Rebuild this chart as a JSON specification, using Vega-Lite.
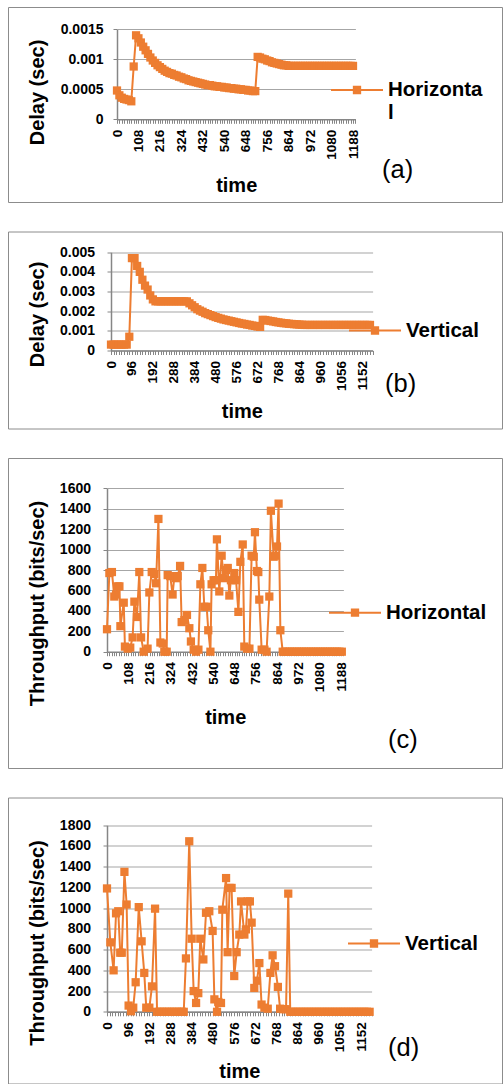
{
  "$schema": "https://vega.github.io/schema/vega-lite/v6.json",
  "background": "white",
  "padding": {"left": 7, "top": 6, "right": 0, "bottom": 0},
  "spacing": 27.5,
  "datasets": {
    "hd": [
      {"time":0,"value":0.00048},{"time":12,"value":0.0004},{"time":24,"value":0.00036},{"time":36,"value":0.00034},{"time":48,"value":0.00033},{"time":60,"value":0.00032},{"time":72,"value":0.0003},{"time":84,"value":0.00088},{"time":96,"value":0.0014},{"time":108,"value":0.00135},{"time":120,"value":0.00128},{"time":132,"value":0.00121},{"time":144,"value":0.00115},{"time":156,"value":0.00109},{"time":168,"value":0.00103},{"time":180,"value":0.00098},{"time":192,"value":0.00094},{"time":204,"value":0.0009},{"time":216,"value":0.00087},{"time":228,"value":0.00084},{"time":240,"value":0.00081},{"time":252,"value":0.00079},{"time":264,"value":0.00077},{"time":276,"value":0.00076},{"time":288,"value":0.00074},{"time":300,"value":0.00073},{"time":312,"value":0.00071},{"time":324,"value":0.0007},{"time":336,"value":0.00068},{"time":348,"value":0.00067},{"time":360,"value":0.00065},{"time":372,"value":0.00064},{"time":384,"value":0.00063},{"time":396,"value":0.00062},{"time":408,"value":0.00061},{"time":420,"value":0.0006},{"time":432,"value":0.00059},{"time":444,"value":0.00058},{"time":456,"value":0.00057},{"time":468,"value":0.00057},{"time":480,"value":0.00056},{"time":492,"value":0.00055},{"time":504,"value":0.00055},{"time":516,"value":0.00054},{"time":528,"value":0.00054},{"time":540,"value":0.00053},{"time":552,"value":0.00053},{"time":564,"value":0.00052},{"time":576,"value":0.00052},{"time":588,"value":0.00051},{"time":600,"value":0.00051},{"time":612,"value":0.0005},{"time":624,"value":0.0005},{"time":636,"value":0.00049},{"time":648,"value":0.00049},{"time":660,"value":0.00048},{"time":672,"value":0.00048},{"time":684,"value":0.00047},{"time":696,"value":0.00047},{"time":708,"value":0.00104},{"time":720,"value":0.00103},{"time":732,"value":0.00101},{"time":744,"value":0.001},{"time":756,"value":0.00098},{"time":768,"value":0.00097},{"time":780,"value":0.00095},{"time":792,"value":0.00094},{"time":804,"value":0.00093},{"time":816,"value":0.00092},{"time":828,"value":0.00091},{"time":840,"value":0.0009},{"time":852,"value":0.0009},{"time":864,"value":0.00089},{"time":876,"value":0.00089},{"time":888,"value":0.00089},{"time":900,"value":0.00089},{"time":912,"value":0.00089},{"time":924,"value":0.00089},{"time":936,"value":0.00089},{"time":948,"value":0.00089},{"time":960,"value":0.00089},{"time":972,"value":0.00089},{"time":984,"value":0.00089},{"time":996,"value":0.00089},{"time":1008,"value":0.00089},{"time":1020,"value":0.00089},{"time":1032,"value":0.00089},{"time":1044,"value":0.00089},{"time":1056,"value":0.00089},{"time":1068,"value":0.00089},{"time":1080,"value":0.00089},{"time":1092,"value":0.00089},{"time":1104,"value":0.00089},{"time":1116,"value":0.00089},{"time":1128,"value":0.00089},{"time":1140,"value":0.00089},{"time":1152,"value":0.00089},{"time":1164,"value":0.00089},{"time":1176,"value":0.00089},{"time":1188,"value":0.00089}
    ],
    "vd": [
      {"time":0,"value":0.0003},{"time":12,"value":0.0003},{"time":24,"value":0.0003},{"time":36,"value":0.0003},{"time":48,"value":0.0003},{"time":60,"value":0.0003},{"time":72,"value":0.0003},{"time":84,"value":0.0007},{"time":96,"value":0.0047},{"time":108,"value":0.0047},{"time":120,"value":0.0043},{"time":132,"value":0.004},{"time":144,"value":0.0036},{"time":156,"value":0.0033},{"time":168,"value":0.0031},{"time":180,"value":0.0028},{"time":192,"value":0.0026},{"time":204,"value":0.0025},{"time":216,"value":0.0025},{"time":228,"value":0.0025},{"time":240,"value":0.0025},{"time":252,"value":0.0025},{"time":264,"value":0.0025},{"time":276,"value":0.0025},{"time":288,"value":0.0025},{"time":300,"value":0.0025},{"time":312,"value":0.0025},{"time":324,"value":0.0025},{"time":336,"value":0.0025},{"time":348,"value":0.0025},{"time":360,"value":0.0024},{"time":372,"value":0.0023},{"time":384,"value":0.0022},{"time":396,"value":0.0021},{"time":408,"value":0.00203},{"time":420,"value":0.00197},{"time":432,"value":0.0019},{"time":444,"value":0.00185},{"time":456,"value":0.0018},{"time":468,"value":0.00175},{"time":480,"value":0.0017},{"time":492,"value":0.00166},{"time":504,"value":0.00162},{"time":516,"value":0.00158},{"time":528,"value":0.00155},{"time":540,"value":0.00152},{"time":552,"value":0.00149},{"time":564,"value":0.00146},{"time":576,"value":0.00143},{"time":588,"value":0.0014},{"time":600,"value":0.00137},{"time":612,"value":0.00135},{"time":624,"value":0.00132},{"time":636,"value":0.0013},{"time":648,"value":0.00127},{"time":660,"value":0.00125},{"time":672,"value":0.00122},{"time":684,"value":0.0012},{"time":696,"value":0.00156},{"time":708,"value":0.00155},{"time":720,"value":0.00152},{"time":732,"value":0.0015},{"time":744,"value":0.00148},{"time":756,"value":0.00145},{"time":768,"value":0.00143},{"time":780,"value":0.00141},{"time":792,"value":0.00139},{"time":804,"value":0.00138},{"time":816,"value":0.00136},{"time":828,"value":0.00135},{"time":840,"value":0.00134},{"time":852,"value":0.00133},{"time":864,"value":0.00132},{"time":876,"value":0.00131},{"time":888,"value":0.0013},{"time":900,"value":0.0013},{"time":912,"value":0.0013},{"time":924,"value":0.0013},{"time":936,"value":0.0013},{"time":948,"value":0.0013},{"time":960,"value":0.0013},{"time":972,"value":0.0013},{"time":984,"value":0.0013},{"time":996,"value":0.0013},{"time":1008,"value":0.0013},{"time":1020,"value":0.0013},{"time":1032,"value":0.0013},{"time":1044,"value":0.0013},{"time":1056,"value":0.0013},{"time":1068,"value":0.0013},{"time":1080,"value":0.0013},{"time":1092,"value":0.0013},{"time":1104,"value":0.0013},{"time":1116,"value":0.0013},{"time":1128,"value":0.0013},{"time":1140,"value":0.0013},{"time":1152,"value":0.0013},{"time":1164,"value":0.0013},{"time":1176,"value":0.0013},{"time":1188,"value":0.0013}
    ],
    "ht": [
      {"time":0,"value":220},{"time":12,"value":770},{"time":25,"value":780},{"time":37,"value":540},{"time":46,"value":560},{"time":54,"value":640},{"time":63,"value":640},{"time":68,"value":250},{"time":85,"value":480},{"time":91,"value":50},{"time":105,"value":30},{"time":118,"value":40},{"time":130,"value":140},{"time":139,"value":490},{"time":152,"value":340},{"time":164,"value":780},{"time":173,"value":140},{"time":186,"value":0},{"time":206,"value":30},{"time":215,"value":580},{"time":227,"value":780},{"time":240,"value":760},{"time":249,"value":670},{"time":261,"value":1300},{"time":271,"value":90},{"time":283,"value":80},{"time":291,"value":0},{"time":303,"value":0},{"time":308,"value":750},{"time":321,"value":740},{"time":333,"value":560},{"time":342,"value":740},{"time":350,"value":720},{"time":359,"value":740},{"time":371,"value":840},{"time":379,"value":290},{"time":393,"value":310},{"time":406,"value":360},{"time":418,"value":230},{"time":426,"value":100},{"time":440,"value":20},{"time":452,"value":0},{"time":464,"value":20},{"time":474,"value":660},{"time":484,"value":820},{"time":494,"value":440},{"time":506,"value":440},{"time":514,"value":210},{"time":525,"value":0},{"time":531,"value":660},{"time":541,"value":700},{"time":553,"value":700},{"time":558,"value":1100},{"time":570,"value":590},{"time":582,"value":940},{"time":592,"value":720},{"time":604,"value":800},{"time":613,"value":820},{"time":621,"value":550},{"time":629,"value":700},{"time":646,"value":770},{"time":655,"value":700},{"time":667,"value":390},{"time":677,"value":880},{"time":689,"value":1050},{"time":697,"value":50},{"time":711,"value":30},{"time":723,"value":30},{"time":734,"value":940},{"time":745,"value":930},{"time":751,"value":1170},{"time":761,"value":790},{"time":768,"value":780},{"time":773,"value":510},{"time":785,"value":20},{"time":799,"value":20},{"time":810,"value":0},{"time":824,"value":540},{"time":832,"value":1380},{"time":846,"value":930},{"time":854,"value":940},{"time":863,"value":1030},{"time":871,"value":1450},{"time":880,"value":210},{"time":892,"value":0},{"time":904,"value":0},{"time":916,"value":0},{"time":928,"value":0},{"time":940,"value":0},{"time":952,"value":0},{"time":964,"value":0},{"time":976,"value":0},{"time":988,"value":0},{"time":1000,"value":0},{"time":1012,"value":0},{"time":1024,"value":0},{"time":1036,"value":0},{"time":1048,"value":0},{"time":1060,"value":0},{"time":1072,"value":0},{"time":1084,"value":0},{"time":1096,"value":0},{"time":1108,"value":0},{"time":1120,"value":0},{"time":1132,"value":0},{"time":1144,"value":0},{"time":1156,"value":0},{"time":1168,"value":0},{"time":1180,"value":0},{"time":1192,"value":0}
    ],
    "vt": [
      {"time":0,"value":1190},{"time":15,"value":670},{"time":30,"value":400},{"time":41,"value":950},{"time":51,"value":970},{"time":60,"value":570},{"time":67,"value":570},{"time":79,"value":1350},{"time":89,"value":1035},{"time":98,"value":60},{"time":109,"value":5},{"time":119,"value":40},{"time":130,"value":285},{"time":144,"value":1010},{"time":157,"value":680},{"time":169,"value":375},{"time":178,"value":40},{"time":192,"value":40},{"time":204,"value":245},{"time":218,"value":995},{"time":227,"value":0},{"time":238,"value":0},{"time":249,"value":0},{"time":261,"value":0},{"time":272,"value":0},{"time":283,"value":0},{"time":295,"value":0},{"time":306,"value":0},{"time":317,"value":0},{"time":329,"value":0},{"time":340,"value":0},{"time":348,"value":0},{"time":358,"value":515},{"time":373,"value":1645},{"time":384,"value":705},{"time":393,"value":200},{"time":404,"value":85},{"time":414,"value":180},{"time":423,"value":705},{"time":437,"value":505},{"time":449,"value":955},{"time":464,"value":970},{"time":479,"value":780},{"time":487,"value":120},{"time":499,"value":0},{"time":505,"value":95},{"time":517,"value":85},{"time":523,"value":985},{"time":540,"value":1290},{"time":547,"value":575},{"time":556,"value":1195},{"time":565,"value":1195},{"time":577,"value":345},{"time":588,"value":575},{"time":600,"value":745},{"time":608,"value":1065},{"time":623,"value":745},{"time":630,"value":795},{"time":638,"value":1065},{"time":648,"value":1065},{"time":656,"value":860},{"time":668,"value":230},{"time":680,"value":300},{"time":691,"value":470},{"time":701,"value":70},{"time":714,"value":40},{"time":729,"value":30},{"time":741,"value":375},{"time":751,"value":545},{"time":762,"value":440},{"time":775,"value":240},{"time":785,"value":30},{"time":801,"value":25},{"time":812,"value":25},{"time":822,"value":1140},{"time":831,"value":0},{"time":843,"value":0},{"time":855,"value":0},{"time":867,"value":0},{"time":879,"value":0},{"time":891,"value":0},{"time":903,"value":0},{"time":915,"value":0},{"time":927,"value":0},{"time":939,"value":0},{"time":951,"value":0},{"time":963,"value":0},{"time":975,"value":0},{"time":987,"value":0},{"time":999,"value":0},{"time":1011,"value":0},{"time":1023,"value":0},{"time":1035,"value":0},{"time":1047,"value":0},{"time":1059,"value":0},{"time":1071,"value":0},{"time":1083,"value":0},{"time":1095,"value":0},{"time":1107,"value":0},{"time":1119,"value":0},{"time":1131,"value":0},{"time":1143,"value":0},{"time":1155,"value":0},{"time":1167,"value":0},{"time":1179,"value":0},{"time":1191,"value":0}
    ]
  },
  "vconcat": [
    {
      "width": 494, "height": 195,
      "title": {"text": "(a)", "orient": "bottom", "anchor": "start", "frame": "group", "offset": -44.5, "dx": 374, "font": "Liberation Sans", "fontSize": 25.5, "fontWeight": "normal", "color": "#000000"},
      "data": {"name": "hd"},
      "encoding": {
        "x": {"field": "time", "type": "quantitative",
          "scale": {"domain": [0, 1200], "range": [109, 347.4], "nice": false, "zero": false},
          "axis": {"title": "time", "offset": -82.7, "titleY": 56.4, "format": "d", "labelExpr": "datum.value % 108 === 0 ? datum.label : ''",
            "values": [0,12,24,36,48,60,72,84,96,108,120,132,144,156,168,180,192,204,216,228,240,252,264,276,288,300,312,324,336,348,360,372,384,396,408,420,432,444,456,468,480,492,504,516,528,540,552,564,576,588,600,612,624,636,648,660,672,684,696,708,720,732,744,756,768,780,792,804,816,828,840,852,864,876,888,900,912,924,936,948,960,972,984,996,1008,1020,1032,1044,1056,1068,1080,1092,1104,1116,1128,1140,1152,1164,1176,1188,1200]}},
        "y": {"field": "value", "type": "quantitative",
          "scale": {"domain": [0, 0.0015], "range": [112.3, 22.3], "nice": false, "zero": false},
          "axis": {"title": "Delay (sec)", "offset": -109, "values": [0, 0.0005, 0.001, 0.0015], "format": "~g", "labelPadding": 10, "titleX": -70, "titleY": 85}}
      },
      "layer": [
        {"mark": {"type": "line", "color": "#ED7D31", "strokeWidth": 2}},
        {"mark": {"type": "point", "shape": "square", "filled": true, "size": 68, "opacity": 1},
          "encoding": {"color": {"datum": "Horizontal", "type": "nominal",
            "scale": {"domain": ["Horizontal"], "range": ["#ED7D31"]},
            "legend": {"orient": "none", "legendX": 323, "legendY": 57, "title": null, "padding": 0,
              "symbolType": "M-1,-0.04H1V0.04H-1Z M-0.16,-0.16H0.16V0.16H-0.16Z", "symbolSize": 2704,
              "symbolFillColor": "#ED7D31", "symbolStrokeWidth": 0, "symbolOpacity": 1,
              "labelFont": "Liberation Sans", "labelFontSize": 20.5, "labelFontWeight": "bold", "labelColor": "#000000",
              "labelOffset": 5, "labelLimit": 0, "labelExpr": "['Horizonta', 'l']"}}}}
      ]
    },
    {
      "width": 494, "height": 197,
      "title": {"text": "(b)", "orient": "bottom", "anchor": "start", "frame": "group", "offset": -56.5, "dx": 377, "font": "Liberation Sans", "fontSize": 25.5, "fontWeight": "normal", "color": "#000000"},
      "data": {"name": "vd"},
      "encoding": {
        "x": {"field": "time", "type": "quantitative",
          "scale": {"domain": [0, 1200], "range": [103, 364.6], "nice": false, "zero": false},
          "axis": {"title": "time", "offset": -78, "titleY": 51.3, "format": "d", "labelExpr": "datum.value % 96 === 0 ? datum.label : ''",
            "values": [0,12,24,36,48,60,72,84,96,108,120,132,144,156,168,180,192,204,216,228,240,252,264,276,288,300,312,324,336,348,360,372,384,396,408,420,432,444,456,468,480,492,504,516,528,540,552,564,576,588,600,612,624,636,648,660,672,684,696,708,720,732,744,756,768,780,792,804,816,828,840,852,864,876,888,900,912,924,936,948,960,972,984,996,1008,1020,1032,1044,1056,1068,1080,1092,1104,1116,1128,1140,1152,1164,1176,1188,1200]}},
        "y": {"field": "value", "type": "quantitative",
          "scale": {"domain": [0, 0.005], "range": [119, 20.7], "nice": false, "zero": false},
          "axis": {"title": "Delay (sec)", "offset": -103, "values": [0, 0.001, 0.002, 0.003, 0.004, 0.005], "format": "~g", "labelPadding": 12.5, "titleX": -64, "titleY": 82.5}}
      },
      "layer": [
        {"mark": {"type": "line", "color": "#ED7D31", "strokeWidth": 2}},
        {"mark": {"type": "point", "shape": "square", "filled": true, "size": 68, "opacity": 1},
          "encoding": {"color": {"datum": "Vertical", "type": "nominal",
            "scale": {"domain": ["Vertical"], "range": ["#ED7D31"]},
            "legend": {"orient": "none", "legendX": 341, "legendY": 73, "title": null, "padding": 0,
              "symbolType": "M-1,-0.04H1V0.04H-1Z M-0.16,-0.16H0.16V0.16H-0.16Z", "symbolSize": 2704,
              "symbolFillColor": "#ED7D31", "symbolStrokeWidth": 0, "symbolOpacity": 1,
              "labelFont": "Liberation Sans", "labelFontSize": 20.5, "labelFontWeight": "bold", "labelColor": "#000000",
              "labelOffset": 5, "labelLimit": 0}}}}
      ]
    },
    {
      "width": 494, "height": 310,
      "title": {"text": "(c)", "orient": "bottom", "anchor": "start", "frame": "group", "offset": -39.8, "dx": 380, "font": "Liberation Sans", "fontSize": 25.5, "fontWeight": "normal", "color": "#000000"},
      "data": {"name": "ht"},
      "encoding": {
        "x": {"field": "time", "type": "quantitative",
          "scale": {"domain": [0, 1200], "range": [99, 335.4], "nice": false, "zero": false},
          "axis": {"title": "time", "offset": -116.3, "titleY": 55.6, "format": "d", "labelExpr": "datum.value % 108 === 0 ? datum.label : ''",
            "values": [0,12,24,36,48,60,72,84,96,108,120,132,144,156,168,180,192,204,216,228,240,252,264,276,288,300,312,324,336,348,360,372,384,396,408,420,432,444,456,468,480,492,504,516,528,540,552,564,576,588,600,612,624,636,648,660,672,684,696,708,720,732,744,756,768,780,792,804,816,828,840,852,864,876,888,900,912,924,936,948,960,972,984,996,1008,1020,1032,1044,1056,1068,1080,1092,1104,1116,1128,1140,1152,1164,1176,1188,1200]}},
        "y": {"field": "value", "type": "quantitative",
          "scale": {"domain": [0, 1600], "range": [193.7, 30.3], "nice": false, "zero": false},
          "axis": {"title": "Throughput (bits/sec)", "offset": -99, "values": [0, 200, 400, 600, 800, 1000, 1200, 1400, 1600], "format": "d", "labelPadding": 12.5, "titleX": -60, "titleY": 145}}
      },
      "layer": [
        {"mark": {"type": "line", "color": "#ED7D31", "strokeWidth": 2}},
        {"mark": {"type": "point", "shape": "square", "filled": true, "size": 68, "opacity": 1},
          "encoding": {"color": {"datum": "Horizontal", "type": "nominal",
            "scale": {"domain": ["Horizontal"], "range": ["#ED7D31"]},
            "legend": {"orient": "none", "legendX": 321, "legendY": 128.7, "title": null, "padding": 0,
              "symbolType": "M-1,-0.04H1V0.04H-1Z M-0.16,-0.16H0.16V0.16H-0.16Z", "symbolSize": 2704,
              "symbolFillColor": "#ED7D31", "symbolStrokeWidth": 0, "symbolOpacity": 1,
              "labelFont": "Liberation Sans", "labelFontSize": 20.5, "labelFontWeight": "bold", "labelColor": "#000000",
              "labelOffset": 5, "labelLimit": 0}}}}
      ]
    },
    {
      "width": 494, "height": 286,
      "title": {"text": "(d)", "orient": "bottom", "anchor": "start", "frame": "group", "offset": -47.5, "dx": 380, "font": "Liberation Sans", "fontSize": 25.5, "fontWeight": "normal", "color": "#000000"},
      "data": {"name": "vt"},
      "encoding": {
        "x": {"field": "time", "type": "quantitative",
          "scale": {"domain": [0, 1200], "range": [99, 363.6], "nice": false, "zero": false},
          "axis": {"title": "time", "offset": -71.7, "titleY": 49.5, "format": "d", "labelExpr": "datum.value % 96 === 0 ? datum.label : ''",
            "values": [0,12,24,36,48,60,72,84,96,108,120,132,144,156,168,180,192,204,216,228,240,252,264,276,288,300,312,324,336,348,360,372,384,396,408,420,432,444,456,468,480,492,504,516,528,540,552,564,576,588,600,612,624,636,648,660,672,684,696,708,720,732,744,756,768,780,792,804,816,828,840,852,864,876,888,900,912,924,936,948,960,972,984,996,1008,1020,1032,1044,1056,1068,1080,1092,1104,1116,1128,1140,1152,1164,1176,1188,1200]}},
        "y": {"field": "value", "type": "quantitative",
          "scale": {"domain": [0, 1800], "range": [214.3, 27.7], "nice": false, "zero": false},
          "axis": {"title": "Throughput (bits/sec)", "offset": -99, "values": [0, 200, 400, 600, 800, 1000, 1200, 1400, 1600, 1800], "format": "d", "labelPadding": 12.5, "titleX": -60, "titleY": 145}}
      },
      "layer": [
        {"mark": {"type": "line", "color": "#ED7D31", "strokeWidth": 2}},
        {"mark": {"type": "point", "shape": "square", "filled": true, "size": 68, "opacity": 1},
          "encoding": {"color": {"datum": "Vertical", "type": "nominal",
            "scale": {"domain": ["Vertical"], "range": ["#ED7D31"]},
            "legend": {"orient": "none", "legendX": 340, "legendY": 120, "title": null, "padding": 0,
              "symbolType": "M-1,-0.04H1V0.04H-1Z M-0.16,-0.16H0.16V0.16H-0.16Z", "symbolSize": 2704,
              "symbolFillColor": "#ED7D31", "symbolStrokeWidth": 0, "symbolOpacity": 1,
              "labelFont": "Liberation Sans", "labelFontSize": 20.5, "labelFontWeight": "bold", "labelColor": "#000000",
              "labelOffset": 5, "labelLimit": 0}}}}
      ]
    }
  ],
  "resolve": {"scale": {"color": "independent"}},
  "config": {
    "view": {"stroke": "#8C8C8C", "strokeWidth": 1},
    "font": "Liberation Sans",
    "axis": {
      "labelFont": "Liberation Sans", "labelFontWeight": "bold", "labelColor": "#000000",
      "titleFont": "Liberation Sans", "titleFontWeight": "bold", "titleFontSize": 20, "titleColor": "#000000",
      "domainColor": "#868686", "domainWidth": 1.5, "tickColor": "#868686", "tickSize": 4, "tickWidth": 1,
      "gridColor": "#A6A6A6", "gridWidth": 1.2
    },
    "axisX": {"labelFontSize": 13.5, "labelAngle": -90, "labelAlign": "right", "labelBaseline": "middle", "labelPadding": 6, "grid": false, "labelOverlap": false, "labelBound": false, "labelFlush": false},
    "axisY": {"labelFontSize": 14, "grid": true, "labelOverlap": false}
  }
}
